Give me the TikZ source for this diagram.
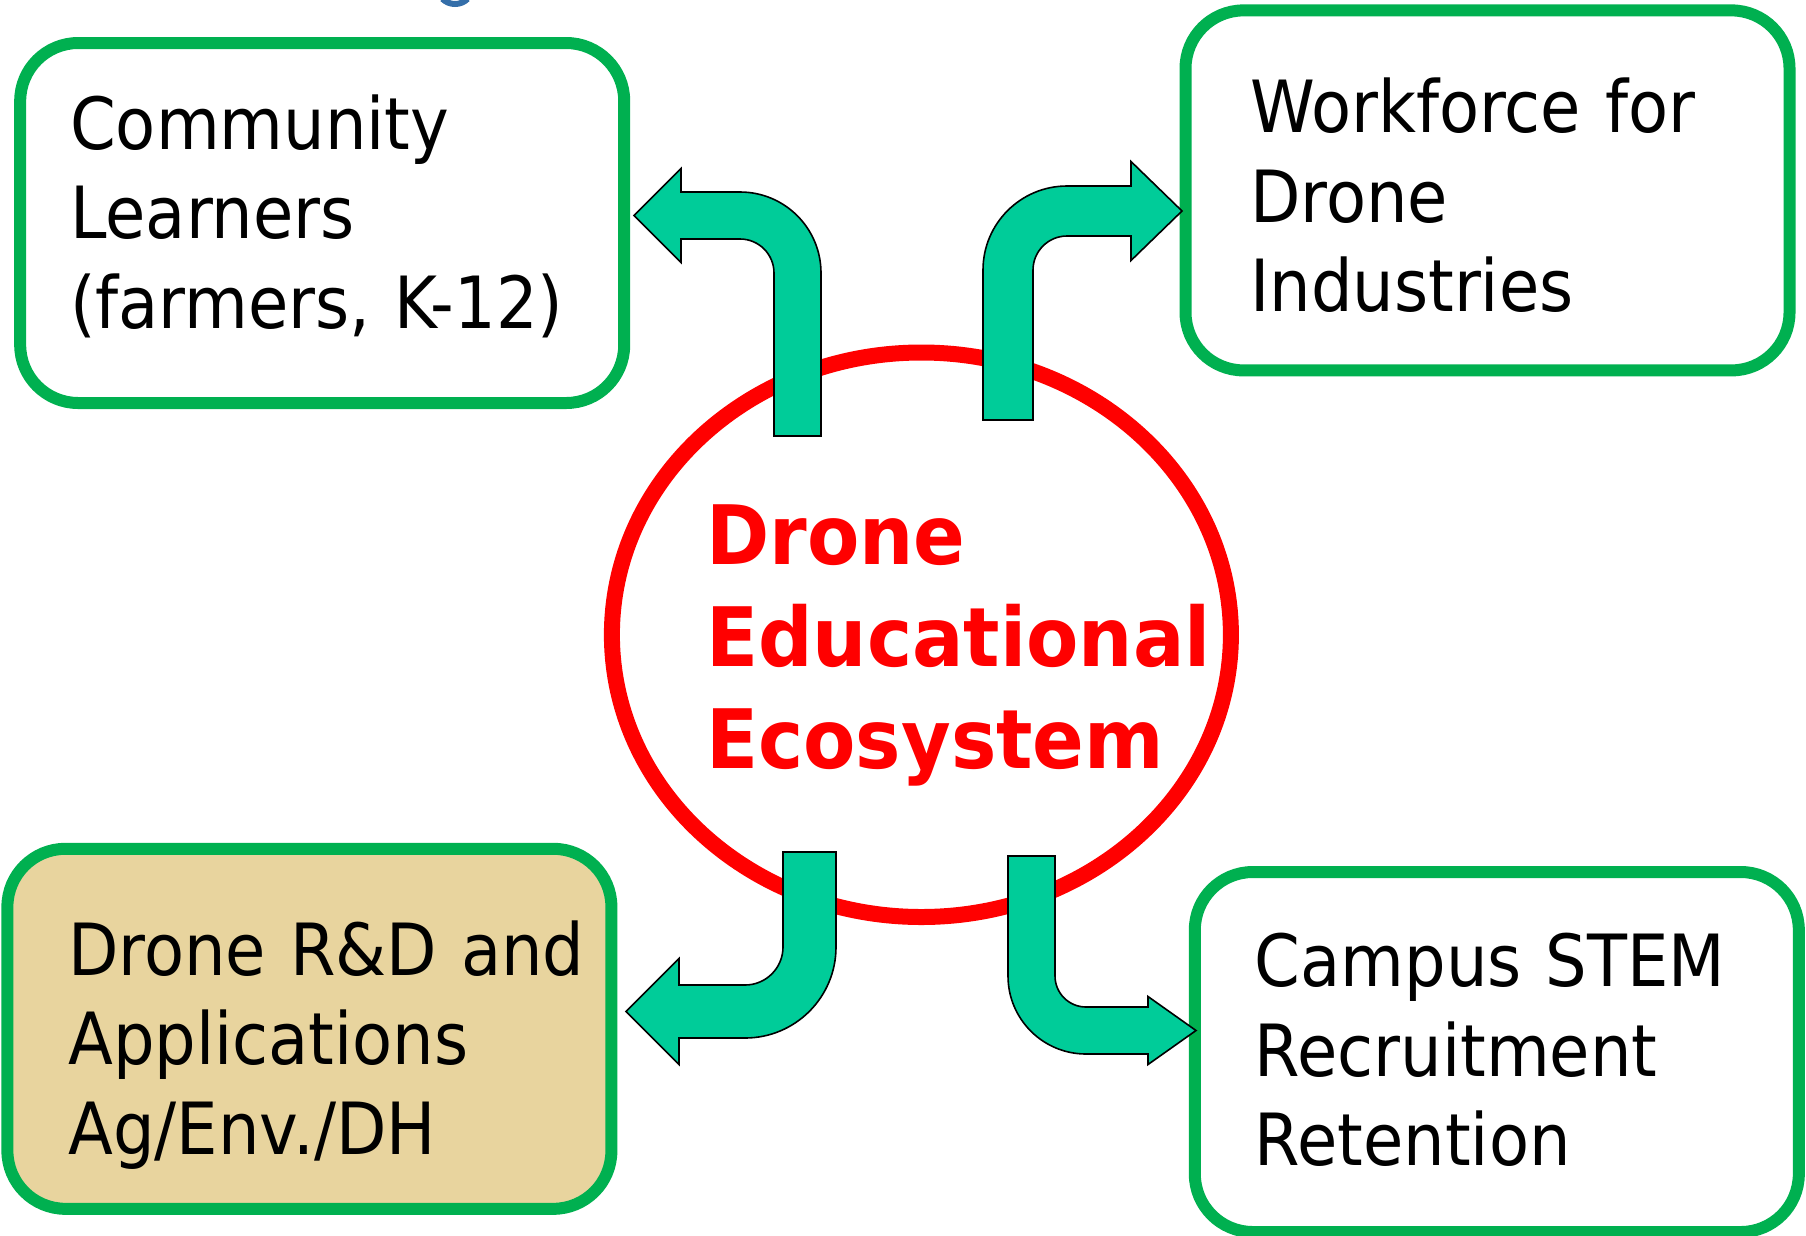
\documentclass[tikz,border=0pt]{standalone}
\usepackage{fontspec}
\usetikzlibrary{shapes.geometric}
\newfontfamily\boxfont[FakeStretch=0.91]{DejaVu Sans}
\newfontfamily\ecofont[FakeStretch=0.93]{DejaVu Sans Bold}
\definecolor{boxgreen}{HTML}{00B050}
\definecolor{arrowteal}{HTML}{00CC99}
\definecolor{ecored}{HTML}{FF0000}
\definecolor{tan}{RGB}{232,212,158}
\definecolor{logoblue}{HTML}{1F5FA0}
\tikzset{
  greenbox/.style={draw=boxgreen, line width=12pt, rounded corners=58pt, inner sep=0pt,
    minimum width=604pt, minimum height=360pt},
  boxtext/.style={anchor=base west, inner sep=0pt, text width=620pt, align=left,
    font=\boxfont\fontsize{72}{89.6}\selectfont},
  ecotext/.style={anchor=base west, inner sep=0pt, text width=600pt, align=left,
    text=ecored, font=\ecofont\fontsize{82}{102.3}\selectfont},
  blockarrow/.style={fill=arrowteal, draw=black, line width=1.6pt, line join=miter}
}
\begin{document}
\begin{tikzpicture}[x=1pt,y=-1pt]
\useasboundingbox (0,0) rectangle (1806,1235);
\fill[white] (0,0) rectangle (1806,1235);
% logo fragment at top
\draw[logoblue, line width=6pt, opacity=0.9] (455,-14) ++(45:18) arc[start angle=45,end angle=135,radius=18];
% boxes
\node[greenbox] (tl) at (322.2,223) {};
\node[greenbox] (tr) at (1487.5,190.4) {};
\node[greenbox, fill=tan] (bl) at (309.4,1028.8) {};
\node[greenbox] (br) at (1496.8,1052) {};
% central ellipse
\node[ellipse, draw=ecored, line width=16pt, inner sep=0pt,
  minimum width=619pt, minimum height=564.5pt] (eco) at (921.4,634.75) {};
% arrows
\draw[blockarrow] (774,436) -- (821,436) -- (821,273)
  arc[start angle=0,end angle=-90,radius=81] -- (681,192) -- (681,168.5)
  -- (634,215.5) -- (681,262.5) -- (681,239) -- (740,239)
  arc[start angle=-90,end angle=0,radius=34] -- cycle;
\draw[blockarrow] (983,420) -- (983,270)
  arc[start angle=180,end angle=270,radius=84] -- (1131,186) -- (1131,161.5)
  -- (1182,211) -- (1131,260.5) -- (1131,236) -- (1067,236)
  arc[start angle=270,end angle=180,radius=34] -- (1033,420) -- cycle;
\draw[blockarrow] (783,852) -- (836,852) -- (836,947)
  arc[start angle=0,end angle=90,radius=91] -- (679,1038) -- (679,1064.5)
  -- (626,1011.5) -- (679,958.5) -- (679,985) -- (745,985)
  arc[start angle=90,end angle=0,radius=38] -- cycle;
\draw[blockarrow] (1008,856) -- (1055,856) -- (1055,976)
  arc[start angle=180,end angle=90,radius=31] -- (1148,1007) -- (1148,996.5)
  -- (1196,1030.5) -- (1148,1064.5) -- (1148,1054) -- (1086,1054)
  arc[start angle=90,end angle=180,radius=78] -- cycle;
% texts
\node[boxtext] (tltext) at (70,149) {Community\\Learners\\(farmers, K-12)};
\node[boxtext] (trtext) at (1250,132.7) {Workforce for\\Drone\\Industries};
\node[boxtext] (bltext) at (68,975) {Drone R\&D and\\Applications\\Ag/Env./DH};
\node[boxtext] (brtext) at (1254.5,986.7) {Campus STEM\\Recruitment\\Retention};
\node[ecotext] (ecotext) at (706,564.3) {Drone\\Educational\\Ecosystem};
\end{tikzpicture}
\end{document}
